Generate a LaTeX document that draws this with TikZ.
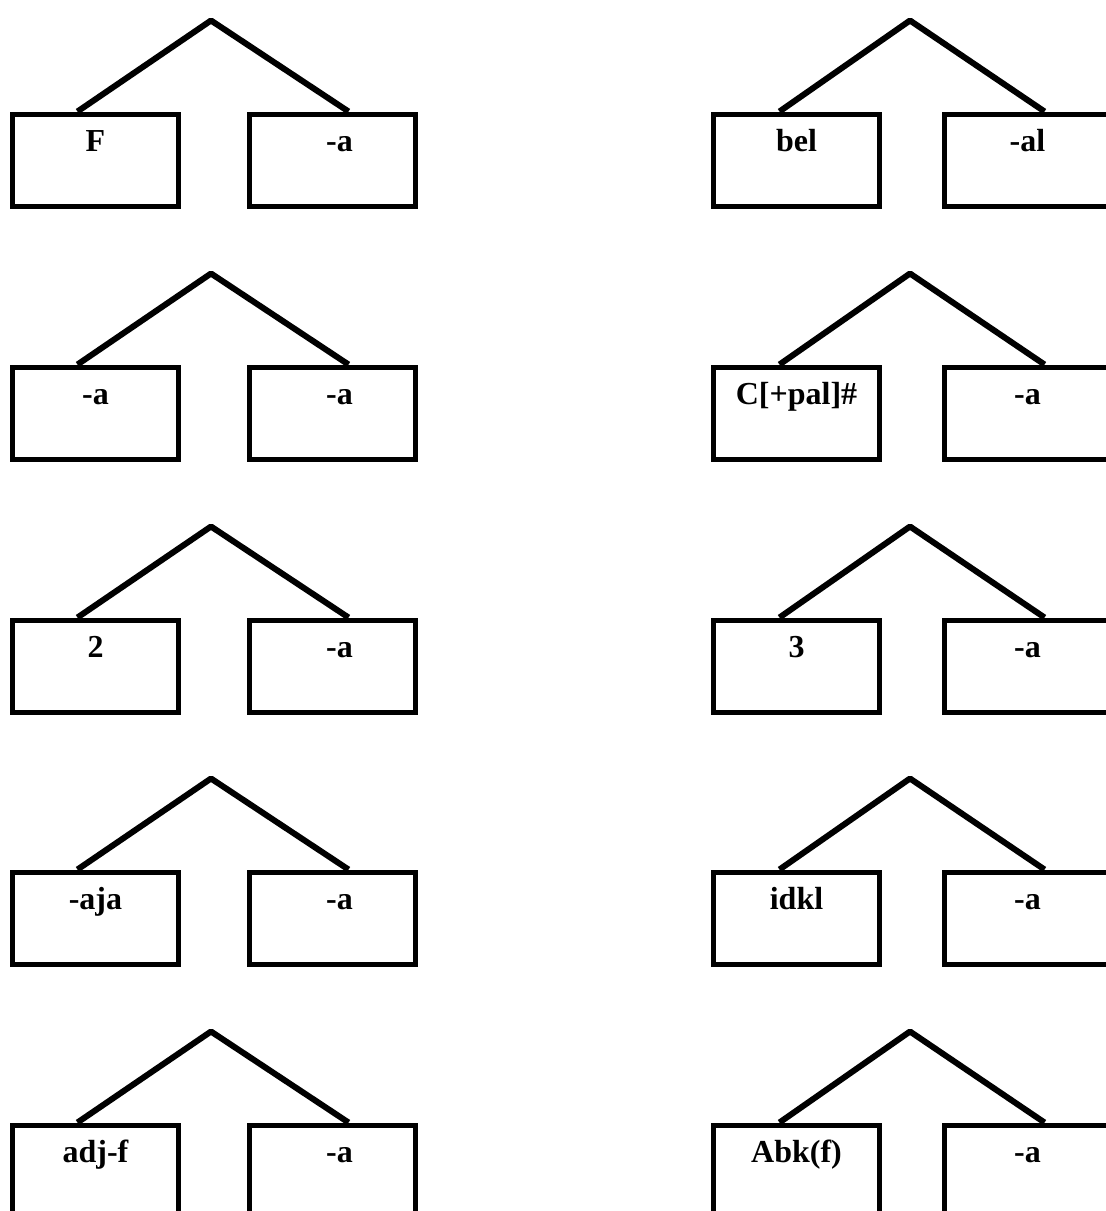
\documentclass[tikz,border=0pt]{standalone}
\usepackage{fontspec}
\setmainfont{Liberation Serif}
\begin{document}
\begin{tikzpicture}[x=1pt,y=-1pt,
  box/.style={draw,line width=5pt,anchor=north,minimum width=166pt,inner sep=0pt,
    text height=37pt,text depth=55pt,font=\fontsize{32}{32}\selectfont\bfseries},
  branch/.style={line width=6pt,line join=round}]
\useasboundingbox (0,0) rectangle (1106,1211);
% rows: box top y, apex y
\foreach \r/\t/\ta/\tb/\tc/\td in {
  1/111.5/F/-a/bel/-al,
  2/364.5/-a/-a/{C[+pal]\#}/-a,
  3/617.5/2/-a/3/-a,
  4/869.5/-aja/-a/idkl/-a,
  5/1122.5/adj-f/-a/Abk(f)/-a}{
  \node[box] (A\r) at (95.5,\t) {\ta};
  \node[box] (B\r) at (332.5,\t) {\hspace*{14pt}\tb};
  \node[box] (C\r) at (796.5,\t) {\tc};
  \node[box] (D\r) at (1027.5,\t) {\td};
  \coordinate (P\r) at (211,\t-91);
  \coordinate (Q\r) at (910,\t-91);
  \draw[branch] ([xshift=-18pt]A\r.north) -- (P\r) -- ([xshift=16pt]B\r.north);
  \draw[branch] ([xshift=-17pt]C\r.north) -- (Q\r) -- ([xshift=17pt]D\r.north);
}
\end{tikzpicture}
\end{document}
